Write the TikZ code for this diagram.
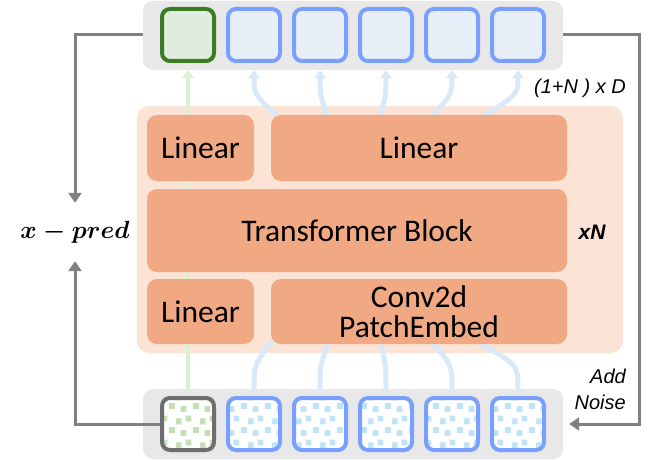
\documentclass[tikz,border=0pt]{standalone}
\usepackage{fontspec}
\usepackage{amsmath}
\setmainfont{Carlito}
\newfontfamily\notefont{Liberation Sans}
\usetikzlibrary{arrows.meta, positioning, calc, patterns, backgrounds}

\definecolor{barGray}{HTML}{E8E8E8}
\definecolor{panelPeach}{HTML}{FBE3D6}
\definecolor{blockOrange}{HTML}{F1A983}
\definecolor{tokGreen}{HTML}{3B7D23}
\definecolor{tokGreenFill}{HTML}{E1EBE0}
\definecolor{tokBlue}{HTML}{78A0FC}
\definecolor{tokBlueFill}{HTML}{E8EFF8}
\definecolor{noisyBorder}{HTML}{6E6E6E}
\definecolor{noiseGreen}{HTML}{C5E0B4}
\definecolor{noiseBlue}{HTML}{C0E4F5}
\definecolor{arrowGray}{HTML}{808080}
\definecolor{flowGreen}{HTML}{D9F2D0}
\definecolor{flowBlue}{HTML}{DAE9F8}

% speckle fill for the noisy tokens
\pgfdeclarepatternformonly{noise}{\pgfqpoint{0pt}{0pt}}{\pgfqpoint{24pt}{24pt}}{\pgfqpoint{24pt}{24pt}}{
    \pgfpathrectangle{\pgfqpoint{1pt}{3pt}}{\pgfqpoint{6pt}{6pt}}
    \pgfpathrectangle{\pgfqpoint{13pt}{0pt}}{\pgfqpoint{6pt}{6pt}}
    \pgfpathrectangle{\pgfqpoint{8pt}{12pt}}{\pgfqpoint{6pt}{6pt}}
    \pgfpathrectangle{\pgfqpoint{18pt}{15pt}}{\pgfqpoint{6pt}{6pt}}
    \pgfusepath{fill}
}

\begin{document}
\begin{tikzpicture}[
    x=1pt, y=-1pt,
    block style/.style={
        fill=blockOrange,
        rounded corners=10pt,
        inner sep=0pt,
        align=center,
        font=\fontsize{31.5}{30}\selectfont
    },
    bar style/.style={
        fill=barGray,
        rounded corners=10pt,
        minimum width=420pt,
        inner sep=0pt
    },
    token style/.style={
        line width=4pt,
        rounded corners=8pt,
        minimum width=52pt,
        minimum height=52pt,
        inner sep=0pt
    },
    out token/.style={token style, draw=tokBlue, fill=tokBlueFill},
    noisy token/.style={token style, draw=tokBlue, preaction={fill=white}, pattern=noise, pattern color=noiseBlue},
    gray arrow/.style={
        draw=arrowGray,
        line width=3pt,
        -{Triangle[length=10pt,width=13pt]}
    },
    flow style/.style={line width=5pt},
    note style/.style={font=\notefont\itshape\fontsize{20}{26}\selectfont, inner sep=0pt}
]

\useasboundingbox (0,0) rectangle (657,460);

% Token bars
\node[bar style, minimum height=69pt] (topbar) at (353,35.5) {};
\node[bar style, minimum height=70pt] (botbar) at (353,424) {};

% Output tokens
\node[token style, draw=tokGreen, fill=tokGreenFill] (t0) at (188,35) {};
\node[out token] (t1) at (254,35) {};
\node[out token] (t2) at (320,35) {};
\node[out token] (t3) at (386,35) {};
\node[out token] (t4) at (452,35) {};
\node[out token] (t5) at (518,35) {};

% Noisy input tokens
\node[token style, draw=noisyBorder, preaction={fill=white}, pattern=noise, pattern color=noiseGreen] (b0) at (188,424) {};
\node[noisy token] (b1) at (254,424) {};
\node[noisy token] (b2) at (320,424) {};
\node[noisy token] (b3) at (386,424) {};
\node[noisy token] (b4) at (452,424) {};
\node[noisy token] (b5) at (518,424) {};

% Network blocks
\node[block style, minimum width=107pt, minimum height=66pt] (linTop) at (200.5,148) {Linear};
\node[block style, minimum width=296pt, minimum height=66pt] (linOut) at (419,148) {Linear};
\node[block style, minimum width=420pt, minimum height=83pt] (tfBlock) at (357,230.5) {Transformer Block};
\node[block style, minimum width=107pt, minimum height=65pt] (linIn) at (200.5,311.5) {Linear};
\node[block style, minimum width=296pt, minimum height=65pt] (patchEmb) at (419,311.5) {Conv2d\\PatchEmbed};

% Panel and token flows behind the blocks
\begin{scope}[on background layer]
\fill[panelPeach, rounded corners=12pt] (137,106) rectangle (623,353);

\draw[flowGreen, line width=4pt, -{Triangle[length=8pt,width=12pt]}]
    (b0.north |- botbar.north) -- (t0.south |- topbar.south);

\draw[flow style, flowBlue, -{Triangle[length=8pt,width=12pt]}]
    ($(linOut.north west)+(9,4)$) .. controls ($(t1.south |- topbar.south)+(0,24)$) .. (t1.south |- topbar.south);
\draw[flow style, flowBlue, -{Triangle[length=8pt,width=12pt]}]
    ($(linOut.north west)+(57,4)$) .. controls ($(t2.south |- topbar.south)+(0,24)$) .. (t2.south |- topbar.south);
\draw[flow style, flowBlue, -{Triangle[length=8pt,width=12pt]}]
    ($(linOut.north west)+(109,4)$) .. controls ($(t3.south |- topbar.south)+(0,24)$) .. (t3.south |- topbar.south);
\draw[flow style, flowBlue, -{Triangle[length=8pt,width=12pt]}]
    ($(linOut.north west)+(159,4)$) .. controls ($(t4.south |- topbar.south)+(0,24)$) .. (t4.south |- topbar.south);
\draw[flow style, flowBlue, -{Triangle[length=8pt,width=12pt]}]
    ($(linOut.north west)+(209,4)$) .. controls ($(t5.south |- topbar.south)+(0,24)$) .. (t5.south |- topbar.south);

\draw[flow style, flowBlue]
    (b1.north |- botbar.north) .. controls ($(b1.north |- botbar.north)+(0,-24)$) .. ($(patchEmb.south west)+(2,-4)$);
\draw[flow style, flowBlue]
    (b2.north |- botbar.north) .. controls ($(b2.north |- botbar.north)+(0,-24)$) .. ($(patchEmb.south west)+(59,-4)$);
\draw[flow style, flowBlue]
    (b3.north |- botbar.north) .. controls ($(b3.north |- botbar.north)+(0,-24)$) .. ($(patchEmb.south west)+(109,-4)$);
\draw[flow style, flowBlue]
    (b4.north |- botbar.north) .. controls ($(b4.north |- botbar.north)+(0,-24)$) .. ($(patchEmb.south west)+(159,-4)$);
\draw[flow style, flowBlue]
    (b5.north |- botbar.north) .. controls ($(b5.north |- botbar.north)+(0,-24)$) .. ($(patchEmb.south west)+(204,-4)$);
\end{scope}

% Labels
\node[font=\fontsize{24}{24}\selectfont, minimum height=58pt, inner sep=0pt] (xpred) at (75,232) {$\boldsymbol{x-pred}$};
\node[note style, anchor=east] (dimLabel) at (626,88) {(1+N ) x D};
\node[font=\notefont\bfseries\itshape\fontsize{21}{21}\selectfont] (repLabel) at (592,232) {xN};
\node[note style, anchor=east, align=right] (noiseLabel) at (626,389) {Add\\Noise};

% Loop arrows
\draw[gray arrow] (topbar.west |- t0) -| (xpred.north);
\draw[gray arrow] (b0.west) -| (xpred.south);
\draw[gray arrow] (topbar.east |- t5) -- ++(76,0) |- ($(botbar.east |- b5)+(6,0)$);

\end{tikzpicture}
\end{document}
